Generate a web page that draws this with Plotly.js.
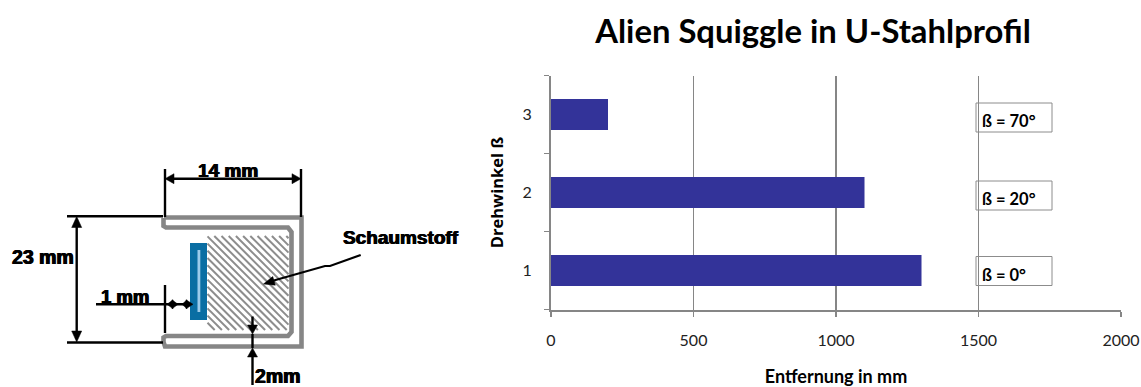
<!DOCTYPE html>
<html>
<head>
<meta charset="utf-8">
<script src="https://cdn.plot.ly/plotly-3.0.1.min.js"></script>
<style>
html,body{margin:0;padding:0;background:#fff}
#chart{width:1141px;height:387px}
</style>
</head>
<body>
<div id="chart"></div>
<script>
// Measured distance per rotation angle
const positions = [1, 2, 3];
const distances = [1300, 1100, 200];
const angleLabels = ['ß = 0°', 'ß = 20°', 'ß = 70°'];
const xTicks = [0, 500, 1000, 1500, 2000];
const yBoundaries = [0.5, 1.5, 2.5, 3.5];

const W = 1141, H = 387;
const GRAY = '#868686', BLACK = '#000000';
const px = x => x / W;
const py = y => 1 - y / H;

const shapes = [];
const notes = [];

function line(x0, y0, x1, y1, color, width) {
  shapes.push({type: 'line', xref: 'paper', yref: 'paper',
    x0: px(x0), y0: py(y0), x1: px(x1), y1: py(y1),
    line: {color: color || BLACK, width: width || 2.4}});
}
function rect(x0, y0, x1, y1, fill, border) {
  shapes.push({type: 'rect', xref: 'paper', yref: 'paper',
    x0: px(x0), y0: py(y0), x1: px(x1), y1: py(y1),
    fillcolor: fill || 'rgba(0,0,0,0)',
    line: border ? {color: border, width: 1} : {width: 0}});
}
function polyline(points, color, width) {
  const d = points.map((p, i) => (i ? 'L' : 'M') + px(p[0]) + ',' + py(p[1])).join(' ');
  shapes.push({type: 'path', xref: 'paper', yref: 'paper', path: d,
    line: {color: color, width: width}, fillcolor: 'rgba(0,0,0,0)'});
}
// Filled arrow head with its tip at (x, y), pointing along (dx, dy)
function head(x, y, dx, dy, len, half) {
  const n = Math.hypot(dx, dy), ux = dx / n, uy = dy / n;
  const bx = x - ux * len, by = y - uy * len;
  const d = 'M' + px(x) + ',' + py(y) +
    ' L' + px(bx - uy * half) + ',' + py(by + ux * half) +
    ' L' + px(bx + uy * half) + ',' + py(by - ux * half) + ' Z';
  shapes.push({type: 'path', xref: 'paper', yref: 'paper', path: d,
    fillcolor: BLACK, line: {color: BLACK, width: 0.5}});
}
function label(text, x, y, size) {
  notes.push({text: '<b>' + text + '</b>', xref: 'paper', yref: 'paper',
    x: px(x), y: py(y), xanchor: 'center', yanchor: 'middle', showarrow: false,
    font: {family: 'Liberation Sans, Arial, sans-serif', size: size, color: BLACK,
      shadow: '0.6px 0 0 #000, -0.6px 0 0 #000'}});
}

// Foam block: diagonal hatching clipped to its rectangle
const hatch = {x0: 207.5, y0: 236, x1: 288.5, y1: 330};
for (let c = hatch.x0 - hatch.y1; c < hatch.x1 - hatch.y0; c += 7.2) {
  const ax = Math.max(hatch.x0, c + hatch.y0), ay = ax - c;
  const bx = Math.min(hatch.x1, c + hatch.y1), by = bx - c;
  if (bx > ax) line(ax, ay, bx, by, '#8d8d8d', 2);
}

// U-profile walls
polyline([[164, 217.5], [301.5, 217.5], [301.5, 346.5], [165, 346.5], [163.5, 342], [163.5, 337.5],
  [166, 336], [288, 336], [291.5, 332], [291.5, 232], [288, 227.5], [166, 227.5], [163.5, 226], [163.5, 218]],
  GRAY, 4.6);

// Sensor strip
rect(190, 243, 207, 320, '#0a6ea3');
rect(197.5, 250, 200.3, 312, '#9ccbea');

// Dimension lines
line(165, 169, 165, 217);
line(301, 169, 301, 217);
line(168, 178.7, 298, 178.7);
head(165, 178.7, -1, 0, 9, 5);
head(301, 178.7, 1, 0, 9, 5);

line(67, 216.3, 163, 216.3);
line(67, 342.5, 163, 342.5);
line(76.7, 220, 76.7, 339);
head(76.7, 216.5, 0, -1, 11, 5);
head(76.7, 342, 0, 1, 11, 5);

line(96, 304.3, 190, 304.3);
line(165, 285, 165, 333);
head(167, 304.3, -1, 0, 6, 4.5);
head(178, 304.3, 1, 0, 6, 4.5);
head(182, 304.3, -1, 0, 5, 4.5);
head(193, 304.3, 1, 0, 7, 4.5);

line(252.5, 352, 252.5, 385);
head(252.5, 348, 0, -1, 9, 5);
line(252.5, 316.5, 252.5, 330);
head(252.5, 334, 0, 1, 9, 5);
line(252.5, 334, 252.5, 348);

// Leader pointing at the foam
polyline([[360.7, 255], [330, 266], [325, 266], [272, 281]], BLACK, 2.2);
head(263.5, 284, -1, 0.3, 11, 4.5);

label('14 mm', 228, 170.5, 19);
label('23 mm', 43, 257, 19.5);
label('1 mm', 125, 296, 18.5);
label('2mm', 278, 376, 19.5);
label('Schaumstoff', 401.5, 237.5, 19);

// Angle boxes beside the bars
const boxTops = [256.5, 181, 103];
angleLabels.forEach((t, i) => {
  rect(976, boxTops[i], 1052, boxTops[i] + 29, null, '#8c8c8c');
  notes.push({text: '<b>' + t + '</b>', xref: 'paper', yref: 'paper',
    x: px(980), y: py(boxTops[i] + 18), xanchor: 'left', yanchor: 'middle', showarrow: false,
    font: {family: 'Lato, sans-serif', size: 16.5, color: BLACK}});
});

const data = [{
  type: 'bar', orientation: 'h',
  x: distances, y: positions,
  width: 0.4,
  marker: {color: '#333399'},
  hoverinfo: 'x+y'
}];

const layout = {
  width: W, height: H,
  margin: {l: 0, r: 0, t: 0, b: 0},
  paper_bgcolor: '#ffffff', plot_bgcolor: '#ffffff',
  showlegend: false,
  title: {
    text: '<b>Alien Squiggle in U-Stahlprofil</b>',
    x: 813 / W, xanchor: 'center', y: 1 - 32 / H, yanchor: 'middle',
    font: {family: 'Lato, sans-serif', size: 32.8, color: BLACK}
  },
  xaxis: {
    domain: [551 / W, 1121 / W],
    range: [0, 2000],
    tickvals: xTicks,
    ticks: 'outside', ticklen: 5, tickcolor: GRAY, tickwidth: 1.5,
    showgrid: true, gridcolor: GRAY, gridwidth: 1.5,
    zeroline: false,
    showline: true, linecolor: GRAY, linewidth: 2,
    ticklabelstandoff: 10,
    tickfont: {family: 'Lato, sans-serif', size: 16, color: '#222222'},
    title: {text: '<b>Entfernung in mm</b>', standoff: 28,
      font: {family: 'Lato, sans-serif', size: 18, color: BLACK}}
  },
  yaxis: {
    domain: [1 - 309.5 / H, 1 - 75.5 / H],
    range: [0.5, 3.5],
    tickvals: positions,
    ticks: '',
    showgrid: false, zeroline: false,
    showline: true, linecolor: GRAY, linewidth: 2,
    minor: {tickvals: yBoundaries, ticks: 'outside', ticklen: 5, tickcolor: GRAY, tickwidth: 1.5, showgrid: false},
    ticklabelstandoff: 14,
    tickfont: {family: 'Lato, sans-serif', size: 16, color: '#222222'},
    title: {text: '<b>Drehwinkel ß</b>', standoff: 15,
      font: {family: 'Open Sans, sans-serif', size: 16.5, color: BLACK}}
  },
  shapes: shapes,
  annotations: notes
};

Plotly.newPlot('chart', data, layout, {displayModeBar: false, staticPlot: true});
</script>
</body>
</html>
